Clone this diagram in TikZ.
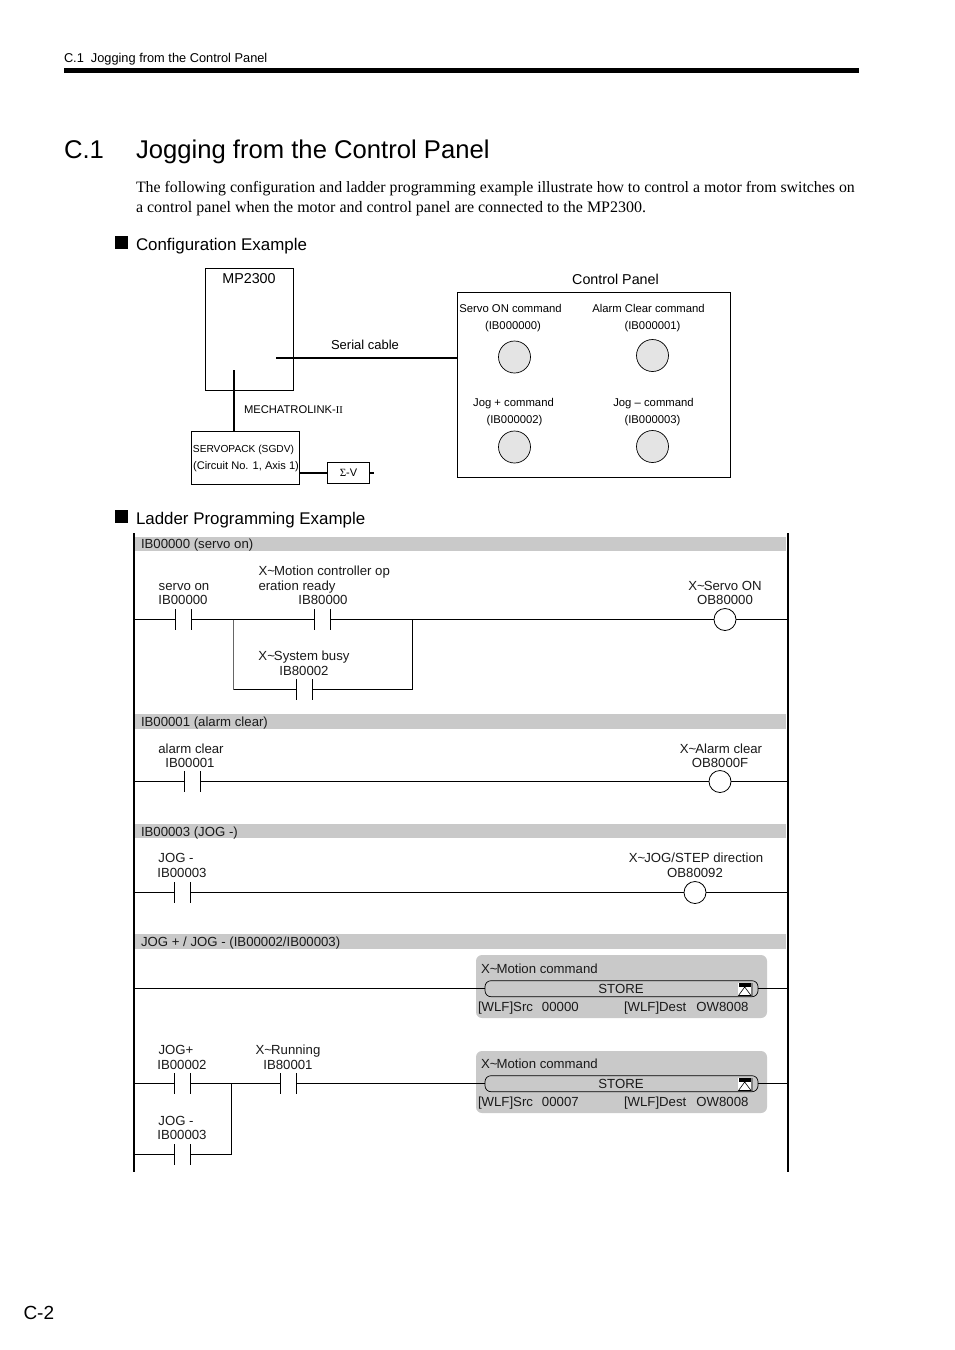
\documentclass[tikz,border=0pt]{standalone}
\usepackage{fontspec}
\setmainfont{Liberation Sans}
\newfontfamily\serifface{Liberation Serif}
\usetikzlibrary{calc}
\definecolor{band}{HTML}{C9C9C9}
\definecolor{btn}{HTML}{E4E4E4}
\definecolor{lad}{HTML}{1A1A1A}
\newcommand{\fs}[1]{\fontsize{#1}{#1}\selectfont}
\newcommand{\tld}{\textasciitilde\kern-1pt}
\tikzset{
  txt/.style={inner sep=0pt,outer sep=0pt,align=center,text=black},
  lbl/.style={txt,font=\fs{11.3},text height=8.2pt,text depth=0pt},
  captxt/.style={txt,font=\fs{13}},
  bigcap/.style={txt,font=\fs{14.3}},
  ltxt/.style={txt,text=lad,font=\fs{13.2},text height=9.5pt,text depth=0pt},
  wire/.style={draw=black,line width=0.9pt},
  thickwire/.style={draw=black,line width=1.8pt},
  rail/.style={draw=black,line width=2pt},
  boxed/.style={draw=black,line width=0.8pt,inner sep=0pt,outer sep=0pt,minimum width=#1},
  bandbar/.style={fill=band,draw=none,inner sep=0pt,outer sep=0pt,minimum width=651pt,minimum height=14.5pt,anchor=west},
  contact/.style={rectangle,inner sep=0pt,outer sep=0pt,minimum width=16pt,minimum height=21pt,
    append after command={(\tikzlastnode.north west) edge[wire] (\tikzlastnode.south west)
      (\tikzlastnode.north east) edge[wire] (\tikzlastnode.south east)}},
  coil/.style={circle,draw=black,line width=0.8pt,fill=white,inner sep=0pt,outer sep=0pt,minimum size=22pt},
  button/.style={circle,draw=black,line width=0.7pt,fill=btn,inner sep=0pt,outer sep=0pt,minimum size=32pt},
  block/.style={fill=band,draw=none,rounded corners=6pt,inner sep=0pt,outer sep=0pt,minimum width=291pt},
  pill/.style={draw=black,line width=0.7pt,rounded corners=6pt,inner sep=0pt,outer sep=0pt,minimum width=273pt,minimum height=16pt},
  sq/.style={fill=black,draw=none,inner sep=0pt,outer sep=0pt,minimum size=13pt},
}
\begin{document}
\begin{tikzpicture}[x=1pt,y=-1pt]
\useasboundingbox (0,0) rectangle (954,1350);
\fill[white] (0,0) rectangle (954,1350);
% header
\node[txt,anchor=base west,font=\fs{12.8}] (hdr) at (64,62) {C.1\hspace{7pt}Jogging from the Control Panel};
\fill[black] (64,68) rectangle (858.5,73);
\node[txt,anchor=base west,font=\fs{25.65}] (t1) at (64,158) {C.1};
\node[txt,anchor=base west,font=\fs{25.65}] (t2) at (136,158) {Jogging from the Control Panel};
\node[txt,anchor=base west,font=\serifface\fs{15.83}] (p1) at (136,192.5) {The following configuration and ladder programming example illustrate how to control a motor from switches on};
\node[txt,anchor=base west,font=\serifface\fs{16}] (p2) at (136,212) {a control panel when the motor and control panel are connected to the MP2300.};
\node[sq] (s1) at (121.5,242) {};
\node[txt,anchor=base west,font=\fs{16.9}] (h1) at (136,250) {Configuration Example};
\node[sq] (s2) at (121.5,516.5) {};
\node[txt,anchor=base west,font=\fs{16.9}] (h2) at (136,524) {Ladder Programming Example};
% configuration
\node[boxed=88pt,minimum height=122pt] (mp) at (249,329) {};
\node[bigcap] (mpl) at (249,279) {MP2300};
\node[boxed=273pt,minimum height=185pt] (panel) at (593.5,384.5) {};
\node[bigcap] (cpl) at (615.5,279.5) {Control Panel};
\node[boxed=108.5pt,minimum height=52.5pt] (sv) at (245.3,458) {};
\node[boxed=42pt,minimum height=21pt] (sigma) at (348,473) {};
\node[txt,font=\fs{11}] (sigl) at (348.5,473) {{\serifface Σ}-V};
\coordinate (serialend) at (276,358);
\coordinate (mlend) at (234,370);
\coordinate (sigend) at (374,473);
\draw[thickwire] (serialend) -- (serialend -| panel.west);
\draw[thickwire] (mlend) -- (mlend |- sv.north);
\draw[thickwire] (sv.east |- sigma.west) -- (sigma.west);
\draw[thickwire] (sigma.east) -- (sigend);
\node[captxt] (scl) at (365,345) {Serial cable};
\node[txt,anchor=west,font=\fs{11.2}] (mll) at (244,410) {MECHATROLINK-{\serifface\fs{10.5}II}};
\node[txt,anchor=center,font=\fs{10.2}] (svl1) at (243.5,449.5) {SERVOPACK (SGDV)};
\node[txt,anchor=center,font=\fs{11.1}] (svl2) at (246,466.5) {(Circuit No. 1, Axis 1)};
\node[lbl] (b1a) at (510.5,308.5) {Servo ON command};
\node[lbl] (b1b) at (513,325) {(IB000000)};
\node[lbl] (b2a) at (648.5,308.5) {Alarm Clear command};
\node[lbl] (b2b) at (652.5,325) {(IB000001)};
\node[lbl] (b3a) at (513.5,402.5) {Jog + command};
\node[lbl] (b3b) at (514.5,419) {(IB000002)};
\node[lbl] (b4a) at (653.5,402.5) {Jog – command};
\node[lbl] (b4b) at (652.5,419) {(IB000003)};
\node[button] (btn1) at (514.5,357) {};
\node[button] (btn2) at (652.5,355.5) {};
\node[button] (btn3) at (514.5,447) {};
\node[button] (btn4) at (652.5,446.5) {};
% ladder bands
\node[bandbar] (bb1) at (135,544) {};
\node[bandbar] (bb2) at (135,721.5) {};
\node[bandbar] (bb3) at (135,831) {};
\node[bandbar] (bb4) at (135,941.5) {};
\node[ltxt,anchor=west] (bl1) at (141,544) {IB00000 (servo on)};
\node[ltxt,anchor=west] (bl2) at (141,722) {IB00001 (alarm clear)};
\node[ltxt,anchor=west] (bl3) at (141,831.5) {IB00003 (JOG -)};
\node[ltxt,anchor=west] (bl4) at (141,942) {JOG + / JOG - (IB00002/IB00003)};
% rails
\coordinate (ltop) at (134,533);
\coordinate (lbot) at (134,1172);
\coordinate (rtop) at (788,533);
\coordinate (rbot) at (788,1172);
\draw[rail] (ltop) -- (lbot);
\draw[rail] (rtop) -- (rbot);
% rung 1
\node[contact] (c1) at (183.5,619.5) {};
\node[contact] (c2) at (322,619.5) {};
\node[contact] (c3) at (304,689.5) {};
\node[coil] (q1) at (725,619.5) {};
\coordinate (j1) at (233.5,619.5);
\coordinate (j2) at (412,619.5);
\draw[wire] (ltop |- c1) -- (c1.west);
\draw[wire] (c1.east) -- (c2.west);
\draw[wire] (c2.east) -- (q1.west);
\draw[wire] (q1.east) -- (rtop |- q1);
\draw[wire,draw=black!60] (j1) -- (j1 |- c3);
\draw[wire] (j1 |- c3) -- (c3.west);
\draw[wire] (c3.east) -- (j2 |- c3) -- (j2);
\node[ltxt] (l1a) at (184,586) {servo on};
\node[ltxt] (l1b) at (183,600) {IB00000};
\node[ltxt,anchor=west] (l2a) at (258.5,571) {X\tld Motion controller op};
\node[ltxt,anchor=west] (l2b) at (258.5,586) {eration ready};
\node[ltxt] (l2c) at (323,600) {IB80000};
\node[ltxt] (l3a) at (304,656) {X\tld System busy};
\node[ltxt] (l3b) at (304,671) {IB80002};
\node[ltxt] (l4a) at (725,586) {X\tld Servo ON};
\node[ltxt] (l4b) at (725,600) {OB80000};
% rung 2
\node[contact] (c4) at (192,781.5) {};
\node[coil] (q2) at (720,781.5) {};
\draw[wire] (ltop |- c4) -- (c4.west);
\draw[wire] (c4.east) -- (q2.west);
\draw[wire] (q2.east) -- (rtop |- q2);
\node[ltxt] (l5a) at (191,748.5) {alarm clear};
\node[ltxt] (l5b) at (190,762.5) {IB00001};
\node[ltxt] (l6a) at (721,748.5) {X\tld Alarm clear};
\node[ltxt] (l6b) at (720,762.5) {OB8000F};
% rung 3
\node[contact] (c5) at (182,892.5) {};
\node[coil] (q3) at (695,892.5) {};
\draw[wire] (ltop |- c5) -- (c5.west);
\draw[wire] (c5.east) -- (q3.west);
\draw[wire] (q3.east) -- (rtop |- q3);
\node[ltxt] (l7a) at (176,858) {JOG -};
\node[ltxt] (l7b) at (182,873) {IB00003};
\node[ltxt] (l8a) at (696,858) {X\tld JOG/STEP direction};
\node[ltxt] (l8b) at (695,873) {OB80092};
% block 1
\node[block,minimum height=63pt] (k1) at (621.5,986.5) {};
\node[pill] (p1b) at (621.5,988.7) {};
\node[ltxt,anchor=west] (k1a) at (481,968.5) {X\tld Motion command};
\node[ltxt] (k1b) at (621,989) {STORE};
\node[ltxt,anchor=west] (k1c) at (478,1006.5) {[WLF]Src\hspace{9pt}00000};
\node[ltxt,anchor=west] (k1d) at (624,1006.5) {[WLF]Dest\hspace{10pt}OW8008};
\draw[wire] (ltop |- p1b) -- (p1b.west);
\draw[wire] (p1b.east) -- (rtop |- p1b);
\fill[white] (738,983) rectangle (753,996);
\fill[gray] (751,983) rectangle (753,996);
\fill[black] (738.5,983) rectangle (751,987);
\draw[black,line width=0.6pt] (738.5,995.5) -- (744.7,987) -- (751,995.5) -- cycle;
% block 2
\node[block,minimum height=62pt] (k2) at (621.5,1082) {};
\node[pill] (p2b) at (621.5,1083.7) {};
\node[ltxt,anchor=west] (k2a) at (481,1063.5) {X\tld Motion command};
\node[ltxt] (k2b) at (621,1084) {STORE};
\node[ltxt,anchor=west] (k2c) at (478,1101.5) {[WLF]Src\hspace{9pt}00007};
\node[ltxt,anchor=west] (k2d) at (624,1101.5) {[WLF]Dest\hspace{10pt}OW8008};
\fill[white] (738,1078) rectangle (753,1091);
\fill[gray] (751,1078) rectangle (753,1091);
\fill[black] (738.5,1078) rectangle (751,1082);
\draw[black,line width=0.6pt] (738.5,1090.5) -- (744.7,1082) -- (751,1090.5) -- cycle;
% rung 5
\node[contact] (c6) at (182,1083.7) {};
\node[contact] (c7) at (288,1083.7) {};
\node[contact] (c8) at (182,1154.5) {};
\coordinate (j3) at (231.5,1083.7);
\draw[wire] (ltop |- c6) -- (c6.west);
\draw[wire] (c6.east) -- (c7.west);
\draw[wire] (c7.east) -- (p2b.west);
\draw[wire] (p2b.east) -- (rtop |- p2b);
\draw[wire] (ltop |- c8) -- (c8.west);
\draw[wire] (c8.east) -- (j3 |- c8) -- (j3);
\node[ltxt] (l9a) at (176,1050) {JOG+};
\node[ltxt] (l9b) at (182,1064.5) {IB00002};
\node[ltxt] (l10a) at (288,1050) {X\tld Running};
\node[ltxt] (l10b) at (288,1064.5) {IB80001};
\node[ltxt] (l11a) at (176,1121) {JOG -};
\node[ltxt] (l11b) at (182,1135) {IB00003};
% footer
\node[txt,anchor=base west,font=\fs{19}] (pg) at (23.5,1319) {C-2};
\end{tikzpicture}
\end{document}
